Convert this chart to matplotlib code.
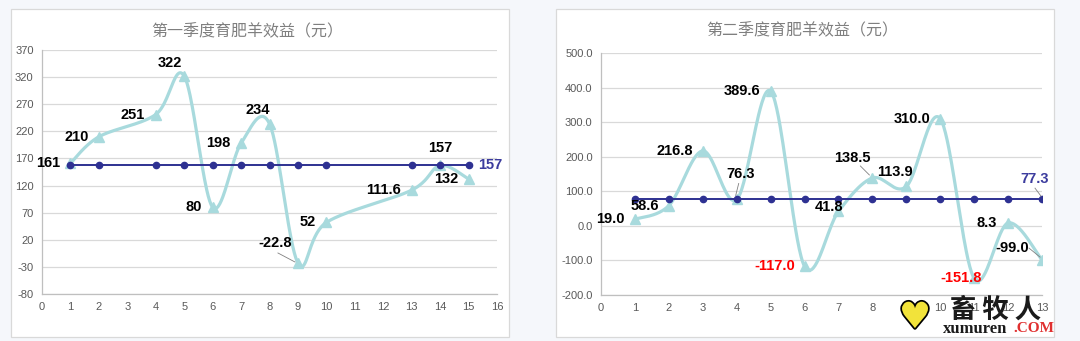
import numpy as np
import matplotlib
matplotlib.use("Agg")
import matplotlib.pyplot as plt
from matplotlib.patches import Rectangle
from matplotlib.ticker import FormatStrFormatter
from matplotlib.transforms import offset_copy
import matplotlib.patheffects as pe

plt.rcParams["font.family"] = ["Liberation Sans", "Noto Sans CJK SC", "DejaVu Sans"]

# ---- 第一季度数据 ----
q1_batch = [1, 2, 4, 5, 6, 7, 8, 9, 10, 13, 14, 15]
q1_profit = [161, 210, 251, 322, 80, 198, 234, -22.8, 52, 111.6, 157, 132]
q1_avg = 157
q1_yticks = [-80, -30, 20, 70, 120, 170, 220, 270, 320, 370]
q1_xticks = list(range(0, 17))

# ---- 第二季度数据 ----
q2_batch = [1, 2, 3, 4, 5, 6, 7, 8, 9, 10, 11, 12, 13]
q2_profit = [19.0, 58.6, 216.8, 76.3, 389.6, -117.0, 41.8, 138.5, 113.9, 310.0, -151.8, 8.3, -99.0]
q2_avg = 77.3
q2_yticks = [-200, -100, 0, 100, 200, 300, 400, 500]
q2_xticks = list(range(0, 14))

TEAL = "#A8DADD"
NAVY = "#2E3192"
AVG_TXT = "#3C3C9E"
GRID = "#D9D9D9"
TICK = "#595959"
PX = 0.72  # 像素 -> 点


def smooth(xs, ys, n=40):
    # Excel 平滑线: 三次贝塞尔, 控制点取相邻点差的 1/6
    P = np.column_stack([xs, ys]).astype(float)
    Pp = np.vstack([P[0], P, P[-1]])
    out = []
    t = np.linspace(0, 1, n)[:, None]
    for i in range(len(P) - 1):
        p0, p1, p2, p3 = Pp[i], Pp[i + 1], Pp[i + 2], Pp[i + 3]
        c1 = p1 + (p2 - p0) / 6
        c2 = p2 - (p3 - p1) / 6
        seg = (1 - t) ** 3 * p1 + 3 * (1 - t) ** 2 * t * c1 + 3 * (1 - t) * t ** 2 * c2 + t ** 3 * p2
        out.append(seg if i == 0 else seg[1:])
    return np.vstack(out)


def label(v, fmt):
    return f"{v:g}" if fmt == "%g" else fmt % v


def draw_panel(ax, xs, ys, avg, yticks, xticks, fmt, offsets, red, avg_off):
    ax.set_xlim(xticks[0], xticks[-1])
    ax.set_ylim(yticks[0], yticks[-1])
    ax.set_yticks(yticks)
    ax.set_xticks(xticks)
    ax.yaxis.set_major_formatter(FormatStrFormatter(fmt))
    ax.grid(axis="y", color=GRID, lw=0.9)
    ax.set_axisbelow(True)
    for s in ["top", "right"]:
        ax.spines[s].set_visible(False)
    for s in ["left", "bottom"]:
        ax.spines[s].set_color("#BFBFBF")
        ax.spines[s].set_linewidth(0.9)
    ax.tick_params(length=0, colors=TICK, labelsize=8, pad=6)
    ax.set_facecolor("white")

    curve = smooth(xs, ys)
    ax.plot(curve[:, 0], curve[:, 1], color=TEAL, lw=2.3, zorder=2, solid_capstyle="round")
    ax.plot(xs, ys, ls="none", marker="^", ms=7, color=TEAL, zorder=2)
    ax.plot(xs, [avg] * len(xs), color=NAVY, lw=1.4, marker="o", ms=4.5, zorder=3)

    for i, (x, y) in enumerate(zip(xs, ys)):
        dx, dy = offsets[i]
        col = "#FF0000" if i in red else "black"
        ax.annotate(label(y, fmt), (x, y), xytext=(dx * PX, dy * PX), textcoords="offset points",
                    ha="center", va="center", fontsize=10.5, fontweight="bold",
                    color=col, zorder=5)
    ax.annotate(label(avg, fmt), (xs[-1], avg), xytext=(avg_off[0] * PX, avg_off[1] * PX),
                textcoords="offset points", ha="center", va="center",
                fontsize=10.5, fontweight="bold", color=AVG_TXT, zorder=5)


def leader(ax, x, y, p0, p1):
    # 数据标签引导线, p0/p1 为相对数据点的像素偏移
    fig = ax.figure
    t0 = offset_copy(ax.transData, fig=fig, x=p0[0] * PX, y=p0[1] * PX, units="points")
    t1 = offset_copy(ax.transData, fig=fig, x=p1[0] * PX, y=p1[1] * PX, units="points")
    a = t0.transform((x, y))
    b = t1.transform((x, y))
    fig.add_artist(plt.Line2D([a[0], b[0]], [a[1], b[1]], transform=None,
                              color="#808080", lw=0.6, zorder=6))


fig = plt.figure(figsize=(10.8, 3.41), dpi=100)
fig.patch.set_facecolor("#F5F7FB")

# 白色面板
for left in (11 / 1080, 556 / 1080):
    fig.add_artist(Rectangle((left, 4 / 341), 498 / 1080, 328 / 341, transform=fig.transFigure,
                             facecolor="white", edgecolor="#D9D9D9", lw=0.9, zorder=0))

ax1 = fig.add_axes([42 / 1080, 1 - 294 / 341, 455 / 1080, 244 / 341])
ax2 = fig.add_axes([601 / 1080, 1 - 295 / 341, 441 / 1080, 242 / 341])

q1_offsets = [(-22, 0), (-22, 0), (-23, 0), (-14, 13), (-19, 0), (-23, 0), (-12, 14),
              (-23, 20), (-19, 0), (-28, 0), (0, 17), (-22, 0)]
q2_offsets = [(-25, 0), (-24, 0), (-28, 0), (4, 25), (-29, 0), (-30, 0), (-9, 4),
              (-20, 20), (-11, 14), (-28, 0), (-13, 0), (-21, 0), (-30, 12)]

draw_panel(ax1, q1_batch, q1_profit, q1_avg, q1_yticks, q1_xticks, "%g",
           q1_offsets, [], (22, 0))
draw_panel(ax2, q2_batch, q2_profit, q2_avg, q2_yticks, q2_xticks, "%.1f",
           q2_offsets, [5, 10], (-7, 20))

# 引导线
leader(ax1, q1_batch[7], q1_profit[7], (-20, 10), (-3, 1))
leader(ax2, q2_batch[3], q2_profit[3], (2, 16), (-1, 4))
leader(ax2, q2_batch[7], q2_profit[7], (-12, 12), (-3, 3))
leader(ax2, q2_batch[12], q2_profit[12], (-13, 12), (-2, 3))
leader(ax2, q2_batch[12], q2_avg, (-7, 11), (-1, 3))

fig.text(247 / 1080, 1 - 32 / 341, "第一季度育肥羊效益（元）", ha="center", va="center",
         fontsize=11.5, color="#7F7F7F", family=["Noto Sans CJK SC"])
fig.text(802 / 1080, 1 - 31 / 341, "第二季度育肥羊效益（元）", ha="center", va="center",
         fontsize=11.5, color="#7F7F7F", family=["Noto Sans CJK SC"])

# 水印
fig.text(915 / 1080, 1 - 318 / 341, "♥", ha="center", va="center", fontsize=26,
         color="#F2E33A", family=["DejaVu Sans"], zorder=10,
         path_effects=[pe.withStroke(linewidth=2.5, foreground="black")])
fig.text(996 / 1080, 1 - 310 / 341, "畜 牧 人", ha="center", va="center", fontsize=19,
         fontweight="bold", color="#1A1A1A", family=["Noto Sans CJK SC"], zorder=10)
fig.text(943 / 1080, 1 - 329 / 341, "xumuren", ha="left", va="center", fontsize=12,
         fontweight="bold", color="#1A1A1A", family=["Liberation Serif"], zorder=10)
fig.text(1013 / 1080, 1 - 329 / 341, ".COM", ha="left", va="center", fontsize=11,
         fontweight="bold", color="#E03030", family=["Liberation Serif"], zorder=10)

fig.savefig("out.png", dpi=100, facecolor=fig.get_facecolor())
